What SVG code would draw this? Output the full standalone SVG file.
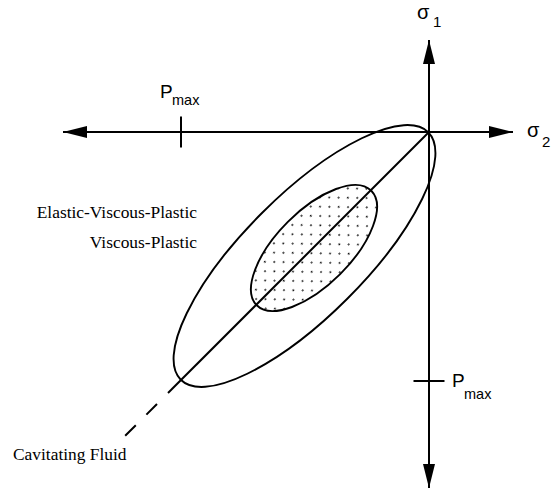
<svg xmlns="http://www.w3.org/2000/svg" width="558" height="491" viewBox="0 0 558 491">
<style>
.ln{stroke:#000;stroke-width:2;fill:none}
.el{stroke:#000;stroke-width:1.9}
.ser{font-family:"Liberation Serif","Times New Roman",serif;font-size:17.4px;fill:#000}
.sans{font-family:"Liberation Sans",Arial,sans-serif;fill:#000}
</style>
<defs>
<marker id="arr" markerUnits="userSpaceOnUse" markerWidth="24" markerHeight="12" refX="24" refY="6" orient="auto" viewBox="0 0 24 12">
<path d="M0,0 L24,6 L0,12 z" fill="#000"/>
</marker>
<pattern id="dots" patternUnits="userSpaceOnUse" width="13" height="13.4" x="2" y="1">
<circle cx="1" cy="1" r="0.9" fill="#000"/>
<circle cx="7.5" cy="7.7" r="0.9" fill="#000"/>
</pattern>
</defs>
<rect width="558" height="491" fill="#fff"/>
<g id="outer-ellipse">
<ellipse cx="304.5" cy="256" rx="175" ry="60.5" transform="rotate(-45 304.5 256)" class="el" fill="none"/>
</g>
<g id="inner-ellipse">
<ellipse cx="314" cy="248" rx="81" ry="37" transform="rotate(-45 314 248)" class="el" fill="url(#dots)"/>
</g>
<g id="connectors">
<line x1="429" y1="132" x2="429" y2="40" class="ln" marker-end="url(#arr)"/>
<line x1="429" y1="132" x2="429" y2="488" class="ln" marker-end="url(#arr)"/>
<line x1="429" y1="132" x2="513" y2="132" class="ln" marker-end="url(#arr)"/>
<line x1="429" y1="132" x2="63" y2="132" class="ln" marker-end="url(#arr)"/>
<line x1="181" y1="116.5" x2="181" y2="147.5" class="ln"/>
<line x1="413.5" y1="381" x2="444.5" y2="381" class="ln"/>
<line x1="429" y1="132" x2="168" y2="393" class="ln" stroke-width="2.2"/>
<line x1="157" y1="404" x2="124" y2="437" class="ln" stroke-dasharray="15 15"/>
</g>
<g id="labels">
<text x="417" y="19" class="sans" font-size="20">σ</text>
<text x="433" y="27" class="sans" font-size="15">1</text>
<text x="527" y="137" class="sans" font-size="20">σ</text>
<text x="542" y="147" class="sans" font-size="15">2</text>
<text x="160" y="98" class="sans" font-size="19">P</text>
<text x="172" y="105" class="sans" font-size="14.5">max</text>
<text x="452" y="387" class="sans" font-size="19">P</text>
<text x="464" y="399" class="sans" font-size="14.5">max</text>
<text x="197" y="218" class="ser" text-anchor="end">Elastic-Viscous-Plastic</text>
<text x="197" y="248" class="ser" text-anchor="end">Viscous-Plastic</text>
<text x="13" y="460" class="ser">Cavitating Fluid</text>
</g>
</svg>
